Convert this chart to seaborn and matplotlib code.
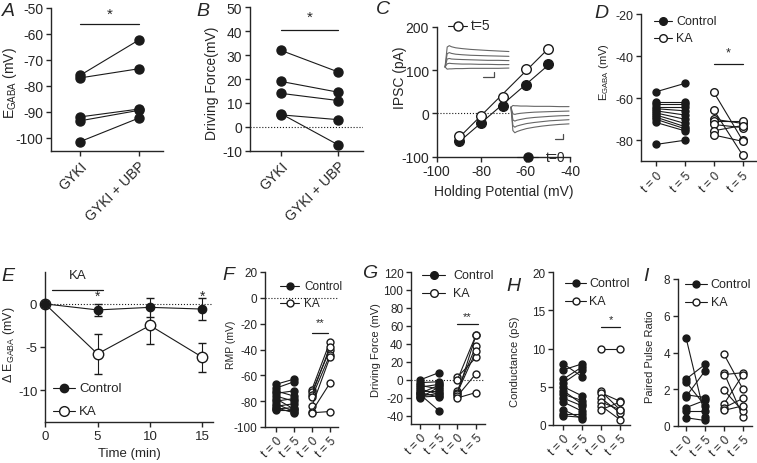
import numpy as np
import pandas as pd
import seaborn as sns
import matplotlib.pyplot as plt
from matplotlib.lines import Line2D

# ---------------- data ----------------
# A / B : GYKI vs GYKI + UBP (paired cells)
gyki_labels = ['GYKI', 'GYKI + UBP']
egaba_gyki = [-76, -77, -92, -93.5, -101.5]
egaba_gyki_ubp = [-62.5, -73.5, -89, -89.5, -92.5]
dforce_gyki = [32, 19, 14, 5, 5.5]
dforce_gyki_ubp = [23, 14.5, 11, 3, -7.5]

# C : IV relation
hold_v = [-90, -80, -70, -60, -50]
ipsc_t0 = [-63, -22, 17, 66, 114]
ipsc_t5 = [-53, -5, 38, 103, 149]

# C insets: example traces (arbitrary units)
trace_t = [0, 1, 2, 3, 5, 8, 12, 16, 20, 25, 30]
trace_up = [
    [0, 7.5, 8.0, 7.6, 7.2, 6.9, 6.6, 6.4, 6.2, 6.0, 5.8],
    [0, 5.0, 5.4, 5.1, 4.8, 4.6, 4.4, 4.3, 4.2, 4.1, 4.0],
    [0, 3.0, 3.2, 3.0, 2.9, 2.8, 2.7, 2.6, 2.5, 2.5, 2.4],
    [0, 1.2, 1.4, 1.3, 1.2, 1.1, 1.1, 1.0, 1.0, 0.9, 0.9],
    [0, -0.8, -0.7, -0.7, -0.6, -0.6, -0.5, -0.5, -0.5, -0.5, -0.4],
]
trace_down = [
    [0, 0.6, 0.5, 0.5, 0.4, 0.4, 0.3, 0.3, 0.3, 0.2, 0.2],
    [0, -2.4, -2.6, -2.4, -2.2, -2.0, -1.8, -1.7, -1.6, -1.5, -1.4],
    [0, -4.6, -5.0, -4.7, -4.4, -4.0, -3.7, -3.5, -3.3, -3.1, -3.0],
    [0, -6.6, -7.2, -6.8, -6.4, -5.9, -5.5, -5.2, -4.9, -4.7, -4.5],
    [0, -8.4, -9.2, -8.8, -8.3, -7.7, -7.2, -6.8, -6.5, -6.2, -6.0],
]

time_labels = ['t = 0', 't = 5', 't = 0', 't = 5']

# D : EGABA
egaba_ctrl_t0 = [-57, -62, -63, -64, -65, -66, -67, -68, -69, -70, -71.5, -82]
egaba_ctrl_t5 = [-53, -62, -63, -64, -66, -68, -70, -72, -73.5, -74.5, -75.5, -80]
egaba_ka_t0 = [-57, -65.5, -70, -71, -72.5, -75.5, -77.5]
egaba_ka_t5 = [-80, -87, -72, -71, -74, -73, -80.5]

# E : change in EGABA over time
time_min = [0, 5, 10, 15]
d_egaba_ctrl = [0, -0.7, -0.4, -0.6]
d_egaba_ctrl_sem = [0, 0.7, 1.1, 1.25]
d_egaba_ka = [0, -5.8, -2.5, -6.2]
d_egaba_ka_sem = [0, 2.3, 2.2, 1.7]

# F : RMP
rmp_ctrl_t0 = [-67, -70, -72, -74, -76, -78, -80, -82, -84, -85, -86, -87]
rmp_ctrl_t5 = [-63, -65, -76, -72, -80, -86, -78, -88, -82, -89, -85, -87]
rmp_ka_t0 = [-71, -73, -75, -77, -84, -88, -89]
rmp_ka_t5 = [-34, -40, -38, -44, -46, -66, -88]

# G : driving force
df_ctrl_t0 = [0, -3, -6, -8, -10, -12, -14, -15, -16, -18, -19, -20]
df_ctrl_t5 = [8, -2, -10, -5, -16, -12, -19, -6, -34, -15, -18, -8]
df_ka_t0 = [3, 0, -12, -14, -16, -18, -20]
df_ka_t5 = [25, 50, 38, 32, 50, 7, -14]

# H : conductance
g_ctrl_t0 = [8.0, 7.2, 6.0, 5.5, 5.0, 4.5, 4.0, 3.5, 3.0, 2.0, 1.5, 1.2]
g_ctrl_t5 = [6.3, 8.0, 7.6, 7.2, 3.8, 2.7, 3.2, 2.5, 1.8, 0.8, 1.5, 1.0]
g_ka_t0 = [10, 4.4, 4.2, 3.5, 3.0, 2.5, 2.0]
g_ka_t5 = [10, 2.0, 3.1, 1.6, 2.0, 0.7, 3.0]

# I : paired pulse ratio
ppr_ctrl_t0 = [4.8, 2.55, 2.4, 1.7, 1.6, 1.0, 0.8, 0.45]
ppr_ctrl_t5 = [0.5, 3.35, 1.1, 1.55, 3.0, 1.4, 0.8, 0.3]
ppr_ka_t0 = [3.9, 2.9, 2.8, 1.95, 1.2, 1.0, 0.85]
ppr_ka_t5 = [2.0, 0.5, 2.9, 0.8, 2.8, 1.5, 1.1]

# ---------------- style ----------------
sns.set_theme(style='ticks')
plt.rcParams['font.family'] = ['Liberation Sans', 'DejaVu Sans']
plt.rcParams['mathtext.fontset'] = 'custom'
plt.rcParams['mathtext.rm'] = 'Liberation Sans'
plt.rcParams['axes.unicode_minus'] = False
plt.rcParams['axes.linewidth'] = 1.0
plt.rcParams['xtick.major.width'] = 1.0
plt.rcParams['ytick.major.width'] = 1.0
plt.rcParams['xtick.major.size'] = 3.5
plt.rcParams['ytick.major.size'] = 3.5
plt.rcParams['xtick.major.pad'] = 2
plt.rcParams['ytick.major.pad'] = 2

W, H = 757, 464
fig = plt.figure(figsize=(W / 100, H / 100), dpi=100)


def axes_px(l, t, r, b):
    ax = fig.add_axes([l / W, 1 - b / H, (r - l) / W, (b - t) / H])
    ax.spines[['top', 'right']].set_visible(False)
    return ax


def paired(ax, pre, post, x0, face, ms):
    n = len(pre)
    d = pd.DataFrame({'pos': [x0] * n + [x0 + 1] * n,
                      'val': list(pre) + list(post),
                      'cell': list(range(n)) * 2})
    sns.lineplot(data=d, x='pos', y='val', units='cell', estimator=None,
                 color='k', lw=0.8, marker='o', ms=ms, mfc=face, mec='k',
                 mew=1, legend=False, ax=ax, clip_on=False, zorder=3)


def key(x1, x2, y, face, label, fs, ms, tx, xm=None):
    xm = (x1 + x2) / 2 if xm is None else xm
    fig.add_artist(Line2D([x1 / W, x2 / W], [1 - y / H] * 2, color='k', lw=0.8,
                          transform=fig.transFigure))
    fig.add_artist(Line2D([xm / W], [1 - y / H], marker='o', ms=ms,
                          mfc=face, mec='k', mew=1, transform=fig.transFigure))
    fig.text(tx / W, 1 - y / H, label, va='center', ha='left', fontsize=fs)


def line_px(xs, ys, **kw):
    fig.add_artist(Line2D([x / W for x in xs], [1 - y / H for y in ys],
                          transform=fig.transFigure, **kw))


def letter(x, y, s):
    fig.text(x / W, 1 - y / H, s, fontsize=14, fontstyle='italic', va='center', ha='left')


def sig(ax, x1, x2, y, ys, s, fs=9):
    ax.plot([x1, x2], [y, y], color='k', lw=0.9, clip_on=False)
    ax.text((x1 + x2) / 2, ys, s, ha='center', va='center', fontsize=fs)


def finish_paired(ax, fs, rot_labels, xfs=None):
    ax.set_xlabel('')
    ax.set_xticks(range(len(rot_labels)))
    ax.set_xticklabels(rot_labels, rotation=45, ha='right', rotation_mode='anchor',
                       fontsize=xfs or fs)
    ax.tick_params(axis='y', labelsize=fs)


egaba_lbl = r'E$_{\mathrm{GABA}}$ (mV)'

# ---------------- A ----------------
axA = axes_px(51, 8.7, 163, 151.7)
paired(axA, egaba_gyki, egaba_gyki_ubp, 0, 'k', 6.5)
axA.set_xlim(-0.5, 1.42)
axA.set_ylim(-105, -50)
axA.set_yticks(range(-100, -49, 10))
finish_paired(axA, 10, gyki_labels)
axA.set_ylabel(egaba_lbl, fontsize=10)
axA.yaxis.set_label_coords(-0.29, 0.48)
sig(axA, 0, 1, -56.3, -52.3, '*', 11)

# ---------------- B ----------------
axB = axes_px(250, 8.3, 363, 151.7)
axB.axhline(0, color='k', lw=0.8, ls=':')
paired(axB, dforce_gyki, dforce_gyki_ubp, 0, 'k', 6.5)
axB.set_xlim(-0.54, 1.44)
axB.set_ylim(-10, 50)
axB.set_yticks(range(-10, 51, 10))
finish_paired(axB, 10, gyki_labels)
axB.set_ylabel('Driving Force(mV)', fontsize=10)
axB.yaxis.set_label_coords(-0.27, 0.48)
sig(axB, 0, 1, 40.5, 46, '*', 11)

# ---------------- C ----------------
axC = axes_px(436.7, 28, 570, 157.7)
axC.plot([-100, -67.5], [0, 0], color='k', lw=0.8, ls=':')
sns.regplot(x=hold_v, y=ipsc_t0, ci=None, ax=axC, color='k',
            scatter_kws=dict(s=48, facecolors='k', edgecolors='k', linewidths=1, alpha=1, zorder=4),
            line_kws=dict(lw=0.8))
sns.regplot(x=hold_v, y=ipsc_t5, ci=None, ax=axC, color='k',
            scatter_kws=dict(s=48, facecolors='w', edgecolors='k', linewidths=1, alpha=1, zorder=4),
            line_kws=dict(lw=0.8))
axC.set_xlim(-100, -40)
axC.set_ylim(-100, 200)
axC.set_xticks([-100, -80, -60, -40])
axC.set_yticks([-100, 0, 100, 200])
axC.tick_params(labelsize=10)
axC.set_xlabel('Holding Potential (mV)', fontsize=10, labelpad=4)
axC.set_ylabel('IPSC (pA)', fontsize=10)
axC.yaxis.set_label_coords(-0.225, 0.62)
key(448, 467, 26.5, 'w', 't=5', 10, 6.5, 471)
key(517, 538, 158, 'k', 't=0', 10, 6.5, 546)

# inset traces
insU = fig.add_axes([444 / W, 1 - 72 / H, 66 / W, 28 / H])
insD = fig.add_axes([510 / W, 1 - 136 / H, 60 / W, 32 / H])
for tr in trace_up:
    insU.plot(trace_t, tr, color='0.4', lw=0.8)
for tr in trace_down:
    insD.plot(trace_t, tr, color='0.4', lw=0.8)
for ins in (insU, insD):
    ins.set_axis_off()
    ins.set_xlim(-0.5, 30.5)
insU.set_ylim(-1.5, 9)
insD.set_ylim(-10, 1.5)
line_px([483, 494, 494], [78, 78, 73], color='0.3', lw=0.9)
line_px([555, 563, 563], [140, 140, 135], color='0.3', lw=0.9)

# ---------------- D ----------------
axD = axes_px(641, 15, 757, 162.3)
paired(axD, egaba_ctrl_t0, egaba_ctrl_t5, 0, 'k', 5)
paired(axD, egaba_ka_t0, egaba_ka_t5, 2, 'w', 5.5)
axD.set_xlim(-0.51, 3.5)
axD.set_ylim(-90, -20)
axD.set_yticks([-80, -60, -40, -20])
finish_paired(axD, 9, time_labels, 8.5)
axD.set_ylabel(egaba_lbl, fontsize=8)
axD.yaxis.set_label_coords(-0.255, 0.61)
sig(axD, 2, 3, -43.7, -38.5, '*', 9)
key(654, 672, 21.7, 'k', 'Control', 9, 5.5, 676)
key(654, 672, 39.3, 'w', 'KA', 9, 5.5, 676)

# ---------------- E ----------------
axE = axes_px(45, 273, 213, 423)
axE.axhline(0, color='k', lw=0.8, ls=':')
axE.errorbar(time_min, d_egaba_ka, yerr=d_egaba_ka_sem, fmt='-o', color='k', lw=0.8,
             ms=7.5, mfc='w', mec='k', mew=1, capsize=3, elinewidth=0.8, clip_on=False, zorder=3)
axE.errorbar(time_min, d_egaba_ctrl, yerr=d_egaba_ctrl_sem, fmt='-o', color='k', lw=0.8,
             ms=6, mfc='k', mec='k', mew=1, capsize=3, elinewidth=0.8, clip_on=False, zorder=4)
axE.set_xlim(0, 16)
axE.set_ylim(-13.7, 3.7)
axE.set_xticks([0, 5, 10, 15])
axE.set_yticks([-10, -5, 0])
axE.tick_params(labelsize=9.5)
axE.set_xlabel('Time (min)', fontsize=9.5, labelpad=4)
axE.set_ylabel(r'$\Delta$ E$_{\mathrm{GABA}}$ (mV)', fontsize=9)
axE.yaxis.set_label_coords(-0.165, 0.52)
axE.plot([0.7, 5.5], [1.66, 1.66], color='k', lw=0.9)
axE.text(3.1, 3.3, 'KA', ha='center', va='center', fontsize=9.5)
axE.text(5, 0.9, '*', ha='center', va='center', fontsize=10)
axE.text(15, 0.9, '*', ha='center', va='center', fontsize=10)
key(53, 75, 389.3, 'k', 'Control', 9.5, 6, 79)
key(53, 75, 411.7, 'w', 'KA', 9.5, 7, 79)

# ---------------- F ----------------
axF = axes_px(265, 273, 338.3, 428)
axF.axhline(0, color='k', lw=0.8, ls=':')
paired(axF, rmp_ctrl_t0, rmp_ctrl_t5, 0, 'k', 5)
paired(axF, rmp_ka_t0, rmp_ka_t5, 2, 'w', 5)
axF.set_xlim(-0.59, 3.46)
axF.set_ylim(-100, 20)
axF.set_yticks(range(-100, 21, 20))
finish_paired(axF, 8.5, time_labels)
axF.set_ylabel('RMP (mV)', fontsize=7.5)
axF.yaxis.set_label_coords(-0.4, 0.535)
sig(axF, 2, 2.9, -27.5, -19, '**', 8)
key(280, 299, 286.7, 'k', 'Control', 8.5, 5, 304)
key(280, 299, 304, 'w', 'KA', 8.5, 5, 304)

# ---------------- G ----------------
axG = axes_px(411, 273, 485, 425)
axG.axhline(0, color='k', lw=0.8, ls=':')
paired(axG, df_ctrl_t0, df_ctrl_t5, 0, 'k', 5)
paired(axG, df_ka_t0, df_ka_t5, 2, 'w', 5)
axG.set_xlim(-0.48, 3.48)
axG.set_ylim(-49, 120)
axG.set_yticks(range(-40, 121, 20))
finish_paired(axG, 8.5, time_labels)
axG.set_ylabel('Driving Force (mV)', fontsize=8)
axG.yaxis.set_label_coords(-0.4, 0.49)
sig(axG, 2, 3.1, 62, 71, '**', 8)
key(422, 445, 275.7, 'k', 'Control', 9, 5.5, 453)
key(422, 445, 294, 'w', 'KA', 9, 5.5, 453)

# ---------------- H ----------------
axH = axes_px(553.3, 273, 630, 426)
paired(axH, g_ctrl_t0, g_ctrl_t5, 0, 'k', 5)
paired(axH, g_ka_t0, g_ka_t5, 2, 'w', 5)
axH.set_xlim(-0.53, 3.53)
axH.set_ylim(0, 20)
axH.set_yticks([0, 5, 10, 15, 20])
finish_paired(axH, 8.5, time_labels)
axH.set_ylabel('Conductance (pS)', fontsize=8)
axH.yaxis.set_label_coords(-0.43, 0.42)
sig(axH, 2, 3, 12.8, 13.8, '*', 8)
key(565, 586, 284, 'k', 'Control', 9, 5, 589, 576)
key(565, 586, 301.7, 'w', 'KA', 9, 5, 589, 576)

# ---------------- I ----------------
axI = axes_px(677.7, 280, 751.7, 427)
paired(axI, ppr_ctrl_t0, ppr_ctrl_t5, 0, 'k', 5)
paired(axI, ppr_ka_t0, ppr_ka_t5, 2, 'w', 5)
axI.set_xlim(-0.44, 3.46)
axI.set_ylim(0, 8)
axI.set_yticks([0, 2, 4, 6, 8])
finish_paired(axI, 8.5, time_labels)
axI.set_ylabel('Paired Pulse Ratio', fontsize=8)
axI.yaxis.set_label_coords(-0.31, 0.476)
key(685, 707, 285, 'k', 'Control', 9, 5, 710.5)
key(685, 707, 302.7, 'w', 'KA', 9, 5, 710.5)

# panel letters
letter(2, 12, 'A')
letter(196, 12, 'B')
letter(376, 10, 'C')
letter(594, 13, 'D')
letter(1, 277, 'E')
letter(222, 276, 'F')
letter(362, 274, 'G')
letter(506, 287, 'H')
letter(643, 277, 'I')

fig.savefig('out.png', dpi=100)
